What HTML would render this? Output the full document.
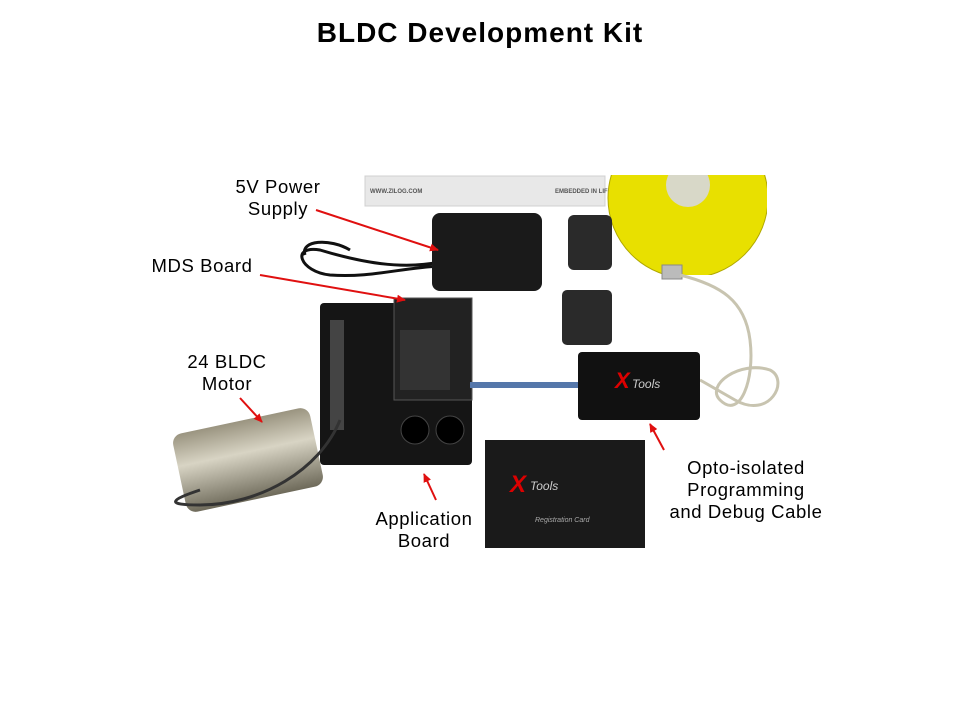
<!DOCTYPE html>
<html><head><meta charset="utf-8"><style>
html,body{margin:0;padding:0;background:#fff;}
body{width:960px;height:720px;overflow:hidden;font-family:"Liberation Sans",sans-serif;}
</style></head><body>
<svg width="960" height="720" viewBox="0 0 960 720" xmlns="http://www.w3.org/2000/svg" font-family="Liberation Sans, sans-serif">
<defs>
<marker id="a" markerWidth="10" markerHeight="10" refX="8" refY="5" orient="auto" markerUnits="userSpaceOnUse"><path d="M0,1 L9,5 L0,9 z" fill="#e01010"/></marker>
<clipPath id="cdc"><rect x="600" y="175" width="167" height="100"/></clipPath>
<linearGradient id="mg" x1="0" y1="0" x2="0" y2="1"><stop offset="0" stop-color="#9a9480"/><stop offset="0.4" stop-color="#d8d4c4"/><stop offset="1" stop-color="#6e6a5a"/></linearGradient>
</defs>
<text x="480" y="42" text-anchor="middle" font-size="28" font-weight="bold" letter-spacing="1">BLDC Development Kit</text>
<rect x="365" y="176" width="240" height="30" fill="#e8e8e8" stroke="#d0d0d0"/>
<text x="370" y="193" font-size="6" fill="#555" font-weight="bold">WWW.ZILOG.COM</text>
<text x="555" y="193" font-size="6" fill="#555" font-weight="bold">EMBEDDED IN LIF</text>
<g clip-path="url(#cdc)"><circle cx="688" cy="198" r="80" fill="#e8e000" stroke="#b0a800"/><circle cx="688" cy="185" r="22" fill="#d8d8c8"/></g>
<path d="M440,262 C400,270 360,262 320,250 C290,245 300,272 330,275 C370,278 400,268 440,266" fill="none" stroke="#111" stroke-width="3"/>
<path d="M305,255 C300,240 330,238 350,250" fill="none" stroke="#111" stroke-width="3"/>
<rect x="432" y="213" width="110" height="78" rx="8" fill="#1a1a1a"/>
<rect x="568" y="215" width="44" height="55" rx="6" fill="#2a2a2a"/>
<rect x="562" y="290" width="50" height="55" rx="5" fill="#2a2a2a"/>
<rect x="662" y="265" width="20" height="14" fill="#bbb" stroke="#888"/>
<path d="M680,275 C720,285 745,300 750,340 C755,380 740,420 720,400 C705,385 740,360 770,370 C790,380 770,420 735,400 L700,380" fill="none" stroke="#c8c4b0" stroke-width="3"/>
<rect x="320" y="303" width="152" height="162" rx="4" fill="#151515"/>
<rect x="394" y="298" width="78" height="102" fill="#222" stroke="#555"/>
<rect x="400" y="330" width="50" height="60" fill="#333"/>
<circle cx="415" cy="430" r="14" fill="#000" stroke="#444"/><circle cx="450" cy="430" r="14" fill="#000" stroke="#444"/>
<rect x="330" y="320" width="14" height="110" fill="#444"/>
<path d="M470,385 L578,385" stroke="#5577aa" stroke-width="6"/>
<rect x="578" y="352" width="122" height="68" rx="4" fill="#111"/>
<text x="615" y="388" font-size="22" fill="#d00" font-style="italic" font-weight="bold">X</text>
<text x="632" y="388" font-size="12" fill="#ccc" font-style="italic">Tools</text>
<g transform="rotate(-12 248 460)"><rect x="178" y="420" width="140" height="80" rx="10" fill="url(#mg)"/></g>
<path d="M200,490 C170,500 165,505 200,505 C260,505 320,470 340,420" fill="none" stroke="#333" stroke-width="3"/>
<rect x="485" y="440" width="160" height="108" fill="#1a1a1a"/>
<text x="510" y="492" font-size="24" fill="#d00" font-style="italic" font-weight="bold">X</text>
<text x="530" y="490" font-size="12" fill="#ccc" font-style="italic">Tools</text>
<text x="535" y="522" font-size="7" fill="#aaa" font-style="italic">Registration Card</text>
<g font-size="18.5" fill="#000" text-anchor="middle" letter-spacing="0.6">
<text x="278" y="193">5V Power</text><text x="278" y="215">Supply</text>
<text x="202" y="272">MDS Board</text>
<text x="227" y="368">24 BLDC</text><text x="227" y="390">Motor</text>
<text x="424" y="525">Application</text><text x="424" y="547">Board</text>
<text x="746" y="474">Opto-isolated</text><text x="746" y="496">Programming</text><text x="746" y="518">and Debug Cable</text>
</g>
<g stroke="#e01010" stroke-width="2" marker-end="url(#a)">
<line x1="316" y1="210" x2="438" y2="250"/>
<line x1="260" y1="275" x2="405" y2="300"/>
<line x1="240" y1="398" x2="262" y2="422"/>
<line x1="436" y1="500" x2="424" y2="474"/>
<line x1="664" y1="450" x2="650" y2="424"/>
</g>
</svg>
</body></html>
